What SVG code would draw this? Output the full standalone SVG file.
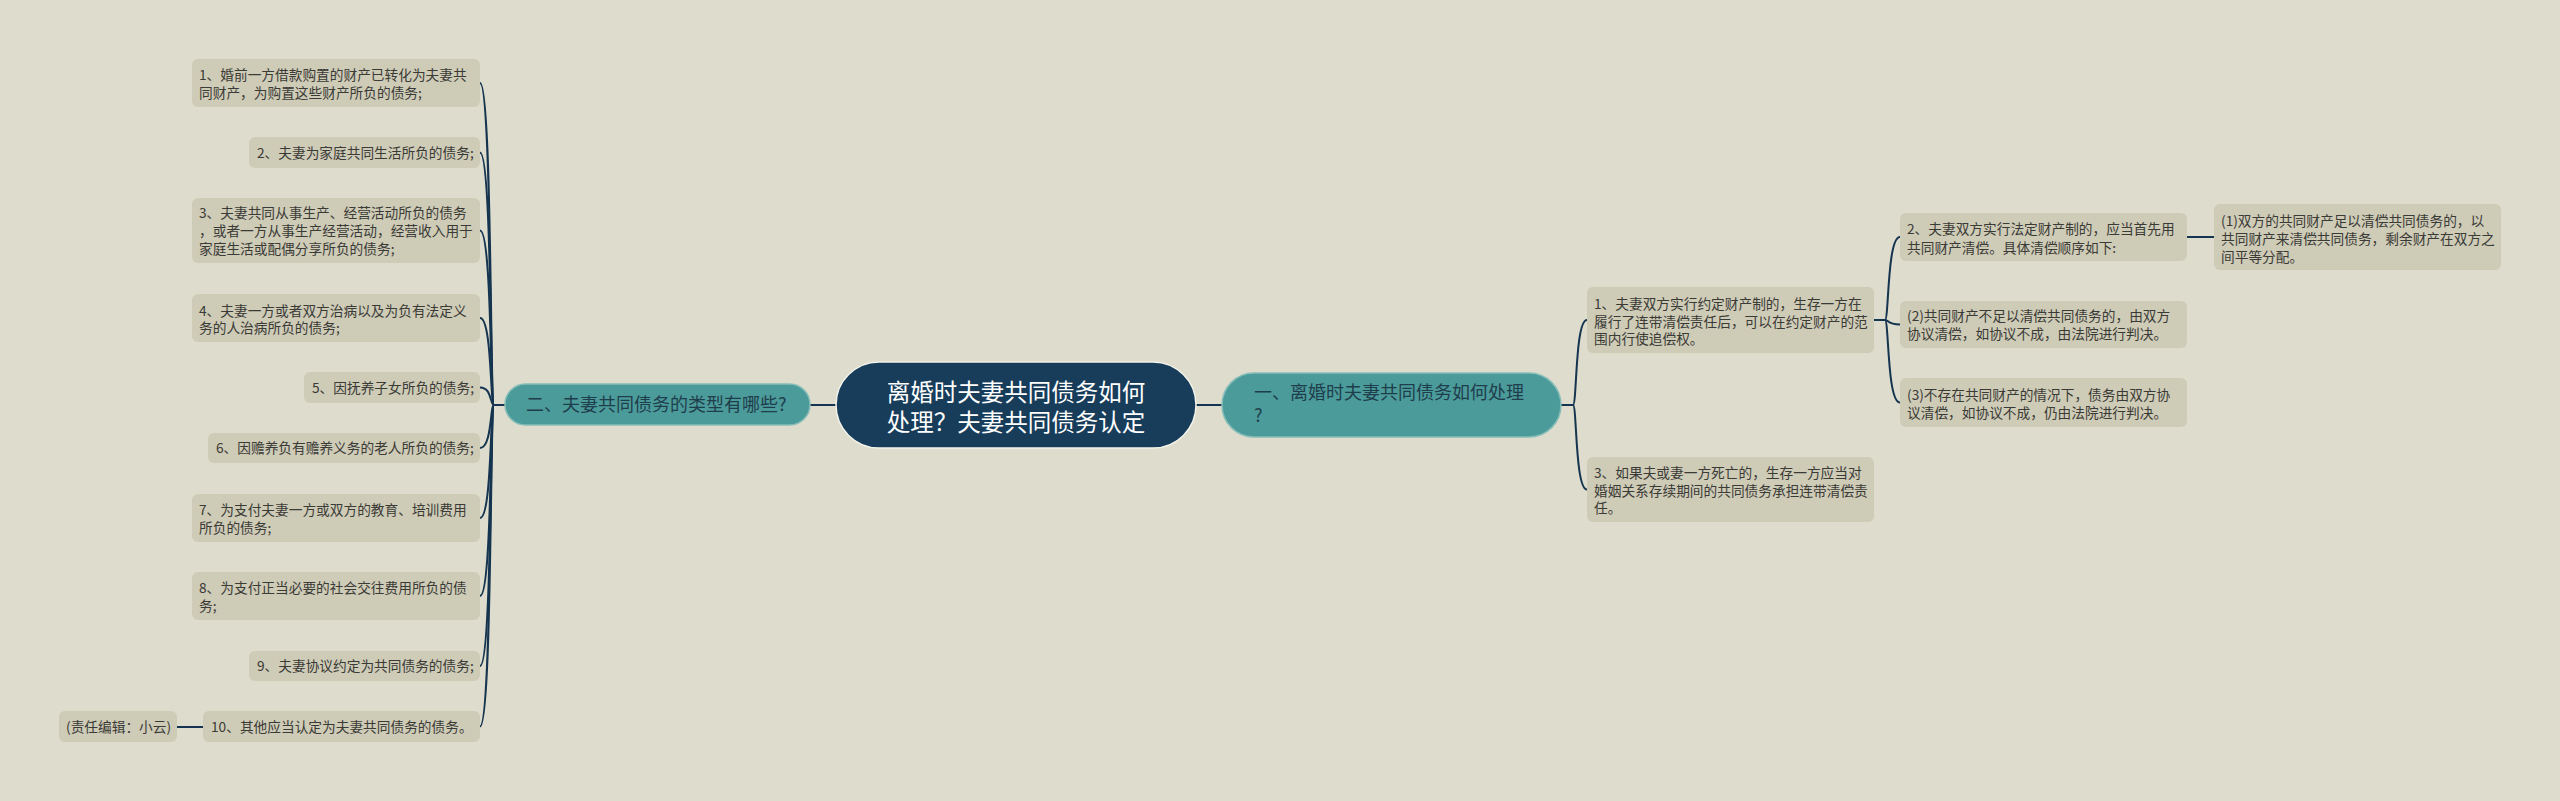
<svg xmlns="http://www.w3.org/2000/svg" width="2560" height="801" viewBox="0 0 2560 801">
<style>
.bg{fill:#dedccc}
.box{fill:#cecbb6}
.bt{font-family:"Noto Sans CJK SC","Noto Sans",sans-serif;font-size:13.7px;fill:#3a3a36}
.br{fill:#4b9b9b;stroke:#86bdb8;stroke-width:1.5}
.brt{font-family:"Noto Sans CJK SC","Noto Sans",sans-serif;font-size:18px;fill:#1f3e4c}
.root{fill:#173d5b;stroke:#f2f2ea;stroke-width:1.5}
.rt{font-family:"Noto Sans CJK SC","Noto Sans",sans-serif;font-size:23.5px;fill:#ffffff;text-anchor:middle}
.ln{fill:none;stroke:#15344f;stroke-width:2}
</style>
<rect class="bg" x="0" y="0" width="2560" height="801"/>
<g id="connectors">
<path class="ln" d="M836 405 L810 405"/>
<path class="ln" d="M1196 405 L1222 405"/>
<path class="ln" d="M505 405 L494 405"/>
<path class="ln" d="M494 405 C490 405 492 83 480 83"/>
<path class="ln" d="M494 405 C490 405 492 152.5 480 152.5"/>
<path class="ln" d="M494 405 C490 405 492 230.5 480 230.5"/>
<path class="ln" d="M494 405 C490 405 492 318 480 318"/>
<path class="ln" d="M494 405 C490 405 492 387.5 480 387.5"/>
<path class="ln" d="M494 405 C490 405 492 448 480 448"/>
<path class="ln" d="M494 405 C490 405 492 518 480 518"/>
<path class="ln" d="M494 405 C490 405 492 596 480 596"/>
<path class="ln" d="M494 405 C490 405 492 666 480 666"/>
<path class="ln" d="M494 405 C490 405 492 726.5 480 726.5"/>
<path class="ln" d="M203 727 L177 727"/>
<path class="ln" d="M1561 405 L1573 405"/>
<path class="ln" d="M1573 405 C1577 405 1575 320 1587 320"/>
<path class="ln" d="M1573 405 C1577 405 1575 489.5 1587 489.5"/>
<path class="ln" d="M1874 320 L1885 320"/>
<path class="ln" d="M1885 320 C1889 320 1887 237 1900 237"/>
<path class="ln" d="M1885 320 C1889 320 1887 324.5 1900 324.5"/>
<path class="ln" d="M1885 320 C1889 320 1887 402.5 1900 402.5"/>
<path class="ln" d="M2187 237 L2214 237"/>
</g>
<g id="root">
<rect class="root" x="836" y="362" width="360" height="86" rx="43"/>
<text class="rt" x="1016" y="401">离婚时夫妻共同债务如何</text>
<text class="rt" x="1016" y="431">处理？夫妻共同债务认定</text>
</g>
<g id="branch-left">
<rect class="br" x="505" y="384" width="305" height="41" rx="20.5"/>
<text class="brt" x="526" y="411">二、夫妻共同债务的类型有哪些?</text>
</g>
<g id="branch-right">
<rect class="br" x="1222" y="373" width="339" height="64" rx="32"/>
<text class="brt" x="1254" y="399">一、离婚时夫妻共同债务如何处理</text>
<text class="brt" x="1254" y="422">?</text>
</g>
<g id="l1">
<rect class="box" x="192" y="59" width="288" height="48" rx="6"/>
<text class="bt" x="199" y="80">1、婚前一方借款购置的财产已转化为夫妻共</text>
<text class="bt" x="199" y="98">同财产，为购置这些财产所负的债务;</text>
</g>
<g id="l2">
<rect class="box" x="249" y="137" width="231" height="31" rx="6"/>
<text class="bt" x="257" y="158">2、夫妻为家庭共同生活所负的债务;</text>
</g>
<g id="l3">
<rect class="box" x="192" y="198" width="288" height="65" rx="6"/>
<text class="bt" x="199" y="218">3、夫妻共同从事生产、经营活动所负的债务</text>
<text class="bt" x="199" y="236">，或者一方从事生产经营活动，经营收入用于</text>
<text class="bt" x="199" y="254">家庭生活或配偶分享所负的债务;</text>
</g>
<g id="l4">
<rect class="box" x="192" y="294" width="288" height="48" rx="6"/>
<text class="bt" x="199" y="316">4、夫妻一方或者双方治病以及为负有法定义</text>
<text class="bt" x="199" y="333">务的人治病所负的债务;</text>
</g>
<g id="l5">
<rect class="box" x="304" y="372" width="176" height="31" rx="6"/>
<text class="bt" x="312" y="393">5、因抚养子女所负的债务;</text>
</g>
<g id="l6">
<rect class="box" x="208" y="433" width="272" height="30" rx="6"/>
<text class="bt" x="216" y="453">6、因赡养负有赡养义务的老人所负的债务;</text>
</g>
<g id="l7">
<rect class="box" x="192" y="494" width="288" height="48" rx="6"/>
<text class="bt" x="199" y="515">7、为支付夫妻一方或双方的教育、培训费用</text>
<text class="bt" x="199" y="533">所负的债务;</text>
</g>
<g id="l8">
<rect class="box" x="192" y="572" width="288" height="48" rx="6"/>
<text class="bt" x="199" y="593">8、为支付正当必要的社会交往费用所负的债</text>
<text class="bt" x="199" y="611">务;</text>
</g>
<g id="l9">
<rect class="box" x="249" y="651" width="231" height="30" rx="6"/>
<text class="bt" x="257" y="671">9、夫妻协议约定为共同债务的债务;</text>
</g>
<g id="l10">
<rect class="box" x="203" y="711" width="277" height="31" rx="6"/>
<text class="bt" x="211" y="732">10、其他应当认定为夫妻共同债务的债务。</text>
</g>
<g id="editor">
<rect class="box" x="59" y="711" width="118" height="31" rx="6"/>
<text class="bt" x="66" y="732">(责任编辑：小云)</text>
</g>
<g id="r1">
<rect class="box" x="1587" y="287" width="287" height="66" rx="6"/>
<text class="bt" x="1594" y="309">1、夫妻双方实行约定财产制的，生存一方在</text>
<text class="bt" x="1594" y="327">履行了连带清偿责任后，可以在约定财产的范</text>
<text class="bt" x="1594" y="344">围内行使追偿权。</text>
</g>
<g id="r3">
<rect class="box" x="1587" y="457" width="287" height="65" rx="6"/>
<text class="bt" x="1594" y="478">3、如果夫或妻一方死亡的，生存一方应当对</text>
<text class="bt" x="1594" y="496">婚姻关系存续期间的共同债务承担连带清偿责</text>
<text class="bt" x="1594" y="513">任。</text>
</g>
<g id="r1-2">
<rect class="box" x="1900" y="213" width="287" height="48" rx="6"/>
<text class="bt" x="1907" y="234">2、夫妻双方实行法定财产制的，应当首先用</text>
<text class="bt" x="1907" y="253">共同财产清偿。具体清偿顺序如下:</text>
</g>
<g id="r1-b">
<rect class="box" x="1900" y="301" width="287" height="47" rx="6"/>
<text class="bt" x="1907" y="321">(2)共同财产不足以清偿共同债务的，由双方</text>
<text class="bt" x="1907" y="339">协议清偿，如协议不成，由法院进行判决。</text>
</g>
<g id="r1-c">
<rect class="box" x="1900" y="378" width="287" height="49" rx="6"/>
<text class="bt" x="1907" y="400">(3)不存在共同财产的情况下，债务由双方协</text>
<text class="bt" x="1907" y="418">议清偿，如协议不成，仍由法院进行判决。</text>
</g>
<g id="r1-2-a">
<rect class="box" x="2214" y="204" width="287" height="66" rx="6"/>
<text class="bt" x="2221" y="226">(1)双方的共同财产足以清偿共同债务的，以</text>
<text class="bt" x="2221" y="244">共同财产来清偿共同债务，剩余财产在双方之</text>
<text class="bt" x="2221" y="262">间平等分配。</text>
</g>
</svg>
